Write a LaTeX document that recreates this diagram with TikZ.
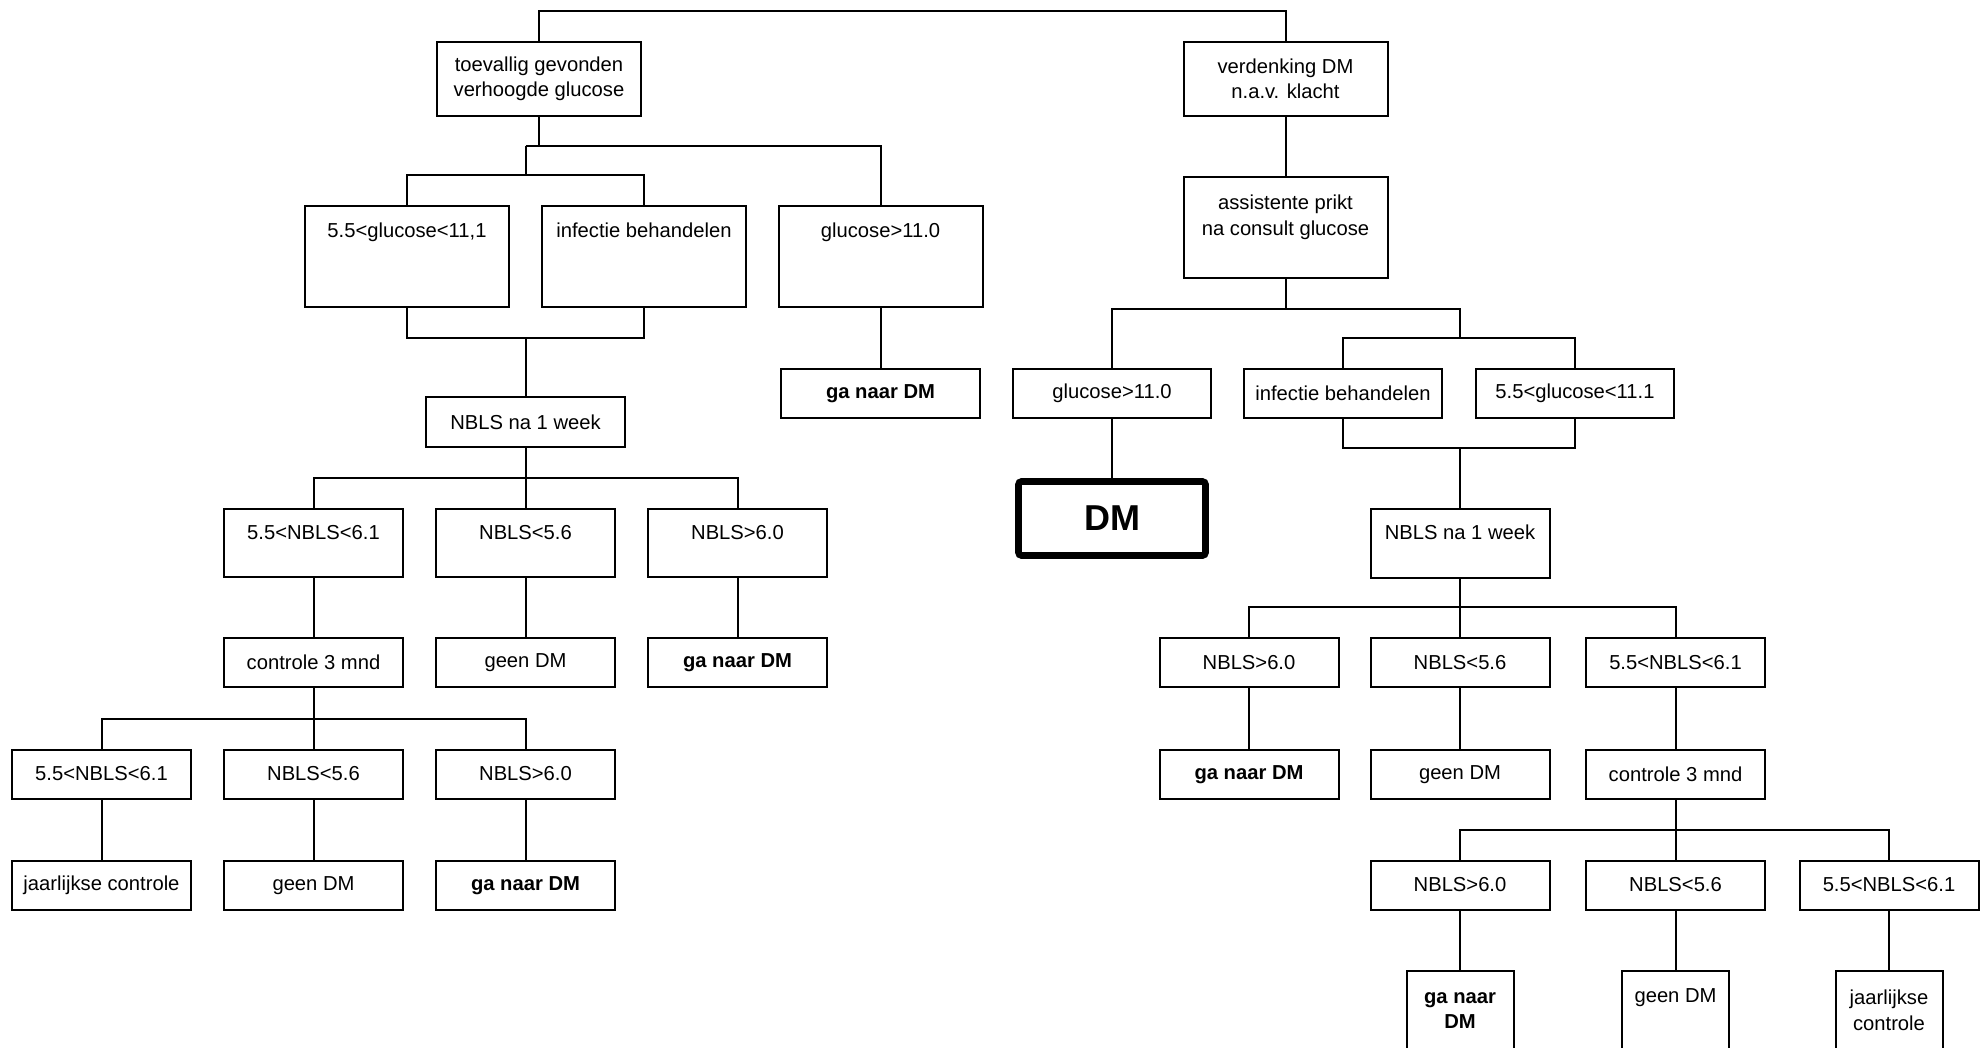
\documentclass[tikz,border=0pt]{standalone}
\usepackage{fontspec}
\setmainfont{Liberation Sans}
\usetikzlibrary{positioning}

\tikzset{
  cell/.style={draw, line width=1pt, inner sep=0pt, align=center,
    minimum height=24.5pt, font=\fontsize{10.1}{12.7}\selectfont},
  topcell/.style={cell, text height=15.5pt, text depth=#1},
  goal/.style={cell, font=\fontsize{10.1}{12.7}\selectfont\bfseries},
  wide/.style={minimum width=102pt},
  narrow/.style={minimum width=89.5pt},
  final/.style={draw, line width=3.3pt, rounded corners=1.5pt, inner sep=0pt,
    minimum width=93.5pt, minimum height=37pt,
    font=\fontsize{18}{20}\selectfont\bfseries},
}

\begin{document}
\begin{tikzpicture}[x=0.5pt, y=-0.5pt, line width=1pt]
    \useasboundingbox (0,0) rectangle (1981,1048);
    \clip (0,0) rectangle (1981,1048);
    % start
    \node[cell, wide, minimum height=37pt] (toev) at (539,79) {toevallig gevonden\\verhoogde glucose};
    \node[cell, wide, minimum height=37pt] (verd) at (1285.5,79) {verdenking DM\\n.a.v. klacht};
    \draw (toev.north) -- ++(0,-30) -| (verd.north);
    % left
    \node[topcell=35pt, wide] (lgl) at (407,257) {5.5<glucose<11,1};
    \node[topcell=35pt, wide] (linf) at (644,257) {infectie behandelen};
    \node[topcell=35pt, wide] (lgh) at (880.5,257) {glucose>11.0};
    \node[goal, minimum width=99.5pt] (lga) at (880.5,393.5) {ga naar DM};
    \node[cell, minimum width=99.5pt, minimum height=25pt] (lnbls) at (525.5,422) {NBLS na 1 week};
    \node[topcell=18.5pt, narrow] (la1) at (313.5,542.5) {5.5<NBLS<6.1};
    \node[topcell=18.5pt, narrow] (la2) at (525.5,542.5) {NBLS<5.6};
    \node[topcell=18.5pt, narrow] (la3) at (737.5,542.5) {NBLS>6.0};
    \node[cell, narrow] (lb1) at (313.5,662.5) {controle 3 mnd};
    \node[cell, narrow] (lb2) at (525.5,662.5) {geen DM};
    \node[goal, narrow] (lb3) at (737.5,662.5) {ga naar DM};
    \node[cell, narrow] (lc1) at (101.5,774) {5.5<NBLS<6.1};
    \node[cell, narrow] (lc2) at (313.5,774) {NBLS<5.6};
    \node[cell, narrow] (lc3) at (525.5,774) {NBLS>6.0};
    \node[cell, narrow] (ld1) at (101.5,885.5) {jaarlijkse controle};
    \node[cell, narrow] (ld2) at (313.5,885.5) {geen DM};
    \node[goal, narrow] (ld3) at (525.5,885.5) {ga naar DM};
    \coordinate (jl) at (525.5,146);
    \coordinate (jl2) at (525.5,175);
    \coordinate (jl3) at (525.5,338);
    \draw (toev.south) -- (toev.south |- jl);
    \draw (jl) -| (lgh.north);
    \draw (jl) -- (jl2);
    \draw (lgl.north) |- (jl2) -| (linf.north);
    \draw (lgl.south) |- (jl3) -| (linf.south);
    \draw (jl3) -- (lnbls.north);
    \draw (lgh) -- (lga);
    \draw (lnbls) -- (la2);
    \draw (la1.north) -- ++(0,-30) -| (la3.north);
    \draw (lb1) -- (lc2);
    \draw (lc1.north) -- ++(0,-30) -| (lc3.north);
    \foreach \a/\b in {la1/lb1, la2/lb2, la3/lb3, lc1/ld1, lc2/ld2, lc3/ld3}
        \draw (\a) -- (\b);
    % right
    \node[cell, wide, minimum height=50.5pt] (ass) at (1285.5,228) {assistente prikt\\na consult glucose\\ \mbox{}};
    \node[cell, minimum width=99pt] (rgh) at (1112,393.5) {glucose>11.0};
    \node[cell, minimum width=99pt] (rinf) at (1343,393.5) {infectie behandelen};
    \node[cell, minimum width=99pt] (rgl) at (1575,393.5) {5.5<glucose<11.1};
    \node[final] (dm) at (1112,518.5) {DM};
    \node[topcell=19pt, narrow] (rnbls) at (1460,543) {NBLS na 1 week};
    \node[cell, narrow] (ra1) at (1249,662.5) {NBLS>6.0};
    \node[cell, narrow] (ra2) at (1460,662.5) {NBLS<5.6};
    \node[cell, narrow] (ra3) at (1675.5,662.5) {5.5<NBLS<6.1};
    \node[goal, narrow] (rb1) at (1249,774.5) {ga naar DM};
    \node[cell, narrow] (rb2) at (1460,774.5) {geen DM};
    \node[cell, narrow] (rb3) at (1675.5,774.5) {controle 3 mnd};
    \node[cell, narrow] (rc1) at (1460,885) {NBLS>6.0};
    \node[cell, narrow] (rc2) at (1675.5,885) {NBLS<5.6};
    \node[cell, narrow] (rc3) at (1889,885) {5.5<NBLS<6.1};
    \node[goal, minimum width=53.5pt, minimum height=52pt] (rd1) at (1460,1023) {ga naar\\DM\\ \mbox{}};
    \node[topcell=36.5pt, minimum width=53.5pt] (rd2) at (1675.5,1023) {geen DM};
    \node[cell, minimum width=53.5pt, minimum height=52pt] (rd3) at (1889,1023) {jaarlijkse\\controle\\ \mbox{}};
    \coordinate (jr) at (1460,309);
    \coordinate (jr2) at (1460,338);
    \coordinate (jr3) at (1460,448);
    \draw (verd) -- (ass);
    \draw (ass.south) -- (ass.south |- jr);
    \draw (rgh.north) |- (jr) -- (jr2);
    \draw (rinf.north) |- (jr2) -| (rgl.north);
    \draw (rinf.south) |- (jr3) -| (rgl.south);
    \draw (jr3) -- (rnbls.north);
    \draw (rgh) -- (dm);
    \draw (rnbls) -- (ra2);
    \draw (ra1.north) -- ++(0,-30) -| (ra3.north);
    \draw (rb3) -- (rc2);
    \draw (rc1.north) -- ++(0,-30) -| (rc3.north);
    \foreach \a/\b in {ra1/rb1, ra2/rb2, ra3/rb3, rc1/rd1, rc2/rd2, rc3/rd3}
        \draw (\a) -- (\b);
\end{tikzpicture}
\end{document}
